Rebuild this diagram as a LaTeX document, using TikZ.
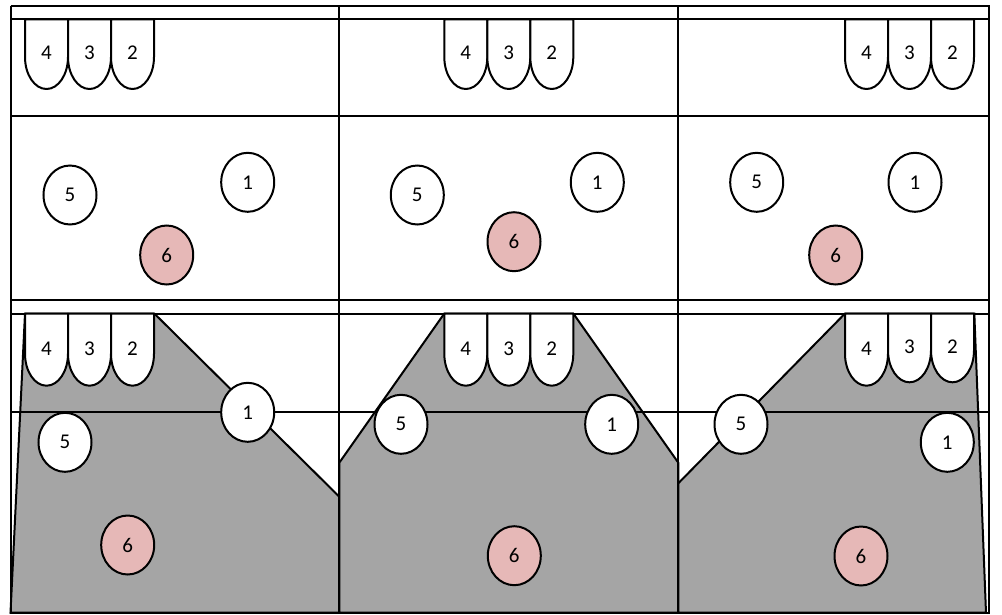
\documentclass[tikz,border=0pt]{standalone}
\usepackage{fontspec}
\setmainfont{Carlito}
\usetikzlibrary{shapes.geometric}
\definecolor{zonegrey}{HTML}{A5A5A5}
\definecolor{keypink}{HTML}{E6B8B7}
\tikzset{
  rule/.style={draw=black, line width=2pt},
  zone/.style={fill=zonegrey, draw=black, line width=2pt, line join=miter},
  seat/.style={ellipse, draw=black, line width=2pt, fill=white,
    minimum width=53pt, minimum height=59pt, inner sep=0pt,
    font=\fontsize{21}{21}\selectfont},
  keyseat/.style={seat, fill=keypink},
  cup/.style={draw=black, fill=white, line width=2pt, line join=round},
  cuplabel/.style={inner sep=0pt, font=\fontsize{21}{21}\selectfont}
}
% one rounded "cup": name, left x, top y, bottom y, label
\newcommand\cupat[5]{%
  \draw[cup] (#2,#3) -- (#2,#4-32)
    arc[start angle=180, end angle=360, x radius=21.5pt, y radius=32pt]
    -- (#2+43,#3) -- cycle;
  \node[cuplabel] (#1) at (#2+21.5,{(#3+#4)/2-1}) {#5};
}
% a row of three cups 4, 3, 2
\newcommand\cuprow[4]{% prefix, left x, top y, bottom y
  \cupat{#1a}{#2}{#3}{#4}{4}
  \cupat{#1b}{#2+43}{#3}{#4}{3}
  \cupat{#1c}{#2+86}{#3}{#4}{2}
}
\begin{document}
\begin{tikzpicture}[x=1pt, y=-1pt]
\useasboundingbox (0,0) rectangle (1002,614);

% shaded zones of the lower row
\draw[zone] (25,313.5) -- (154.3,313.5) -- (339.3,496.7) -- (339.3,612.7)
  -- (10.5,612.7) -- cycle;
\draw[zone] (444.3,313.5) -- (573.3,313.5) -- (678.3,462.7) -- (678.3,612.7)
  -- (339.3,612.7) -- (339.3,462.7) -- cycle;
\draw[zone] (845,313.5) -- (974.3,313.5) -- (986,612.7) -- (678.3,612.7)
  -- (678.3,483.3) -- cycle;

% upper row frame
\draw[rule] (10.5,5.5) -- (988.5,5.5) -- (988.5,300) (10.5,300) -- (10.5,5.5);
\draw[rule] (10.5,19.3) -- (988.5,19.3);
\draw[rule] (10.5,116) -- (988.5,116);
\draw[rule] (339.3,5.5) -- (339.3,300);
\draw[rule] (678.3,5.5) -- (678.3,300);

% lower row frame
\draw[rule] (10.5,300) rectangle (988.5,612.7);
\draw[rule] (10.5,313.5) -- (988.5,313.5);
\draw[rule] (10.5,412.3) -- (988.5,412.3);
\draw[rule] (339.3,300) -- (339.3,612.7);
\draw[rule] (678.3,300) -- (678.3,612.7);

% cups, upper row
\cuprow{ua}{25}{19.3}{89}
\cuprow{ub}{444.3}{19.3}{89}
\cuprow{uc}{845}{19.3}{89}

% cups, lower row
\cuprow{la}{25}{313.5}{385.7}
\cuprow{lb}{444.3}{313.5}{385.7}
\cupat{lca}{845}{313.5}{385.7}{4}
\cupat{lcb}{888}{313.5}{382.3}{3}
\cupat{lcc}{931}{313.5}{382.3}{2}

% round seats, upper row
\node[seat] (ua5) at (70,195) {5};
\node[seat] (ua1) at (247.7,182.3) {1};
\node[keyseat] (ua6) at (166.7,255) {6};

\node[seat] (ub5) at (417.3,195) {5};
\node[seat] (ub1) at (597.3,182.3) {1};
\node[keyseat] (ub6) at (514,241.7) {6};

\node[seat] (uc5) at (756.7,182.3) {5};
\node[seat] (uc1) at (915,182.3) {1};
\node[keyseat] (uc6) at (835.7,255) {6};

% round seats, lower row
\node[seat] (la1) at (247.7,412.3) {1};
\node[seat] (la5) at (65,442.3) {5};
\node[keyseat] (la6) at (127.7,545) {6};

\node[seat] (lb5) at (401,424.3) {5};
\node[seat] (lb1) at (611.7,424.3) {1};
\node[keyseat] (lb6) at (514.3,555.7) {6};

\node[seat] (lc5) at (741,424.3) {5};
\node[seat] (lc1) at (947.3,442.3) {1};
\node[keyseat] (lc6) at (861,556) {6};
\end{tikzpicture}
\end{document}
